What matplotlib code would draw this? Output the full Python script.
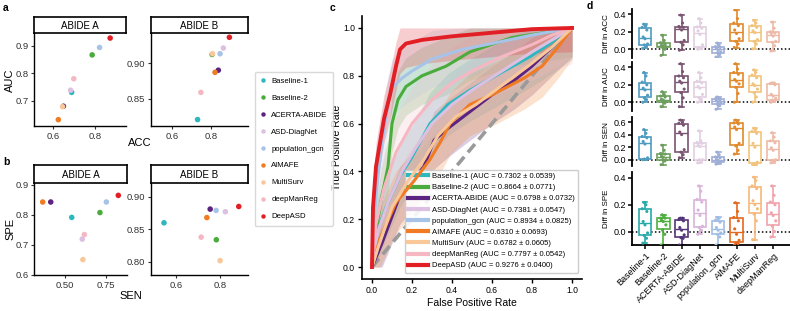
import matplotlib.pyplot as plt
import numpy as np

plt.rcParams['font.family'] = ['Liberation Sans', 'DejaVu Sans']

W, H = 790, 311


def px_box(l, t, r, b):
    # pixel box -> figure fraction
    return [l / W, 1 - b / H, (r - l) / W, (b - t) / H]


methods = ['Baseline-1', 'Baseline-2', 'ACERTA-ABIDE', 'ASD-DiagNet', 'population_gcn',
           'AIMAFE', 'MultiSurv', 'deepManReg', 'DeepASD']
colors = ['#2cb8bd', '#4aac3c', '#5c2380', '#dcc0e2', '#a7c4e8',
          '#f07b22', '#f8c89a', '#f5b8c2', '#e31f26']

# panel a / b : metrics per cohort
acc_a = [0.688, 0.785, 0.649, 0.683, 0.820, 0.625, 0.645, 0.698, 0.870]
auc_a = [0.7302, 0.8664, 0.6798, 0.7381, 0.8934, 0.6310, 0.6782, 0.7797, 0.9276]
acc_b = [0.730, 0.805, 0.837, 0.863, 0.846, 0.820, 0.807, 0.747, 0.894]
auc_b = [0.821, 0.912, 0.890, 0.921, 0.913, 0.887, 0.913, 0.859, 0.936]
sen_a = [0.543, 0.715, 0.415, 0.607, 0.754, 0.366, 0.611, 0.620, 0.827]
spe_a = [0.791, 0.807, 0.842, 0.719, 0.842, 0.842, 0.651, 0.734, 0.864]
sen_b = [0.545, 0.783, 0.755, 0.824, 0.782, 0.740, 0.800, 0.714, 0.885]
spe_b = [0.860, 0.834, 0.881, 0.877, 0.879, 0.868, 0.802, 0.838, 0.885]

# panel c : mean ROC curves
b1_fpr = [0, 0.03, 0.07, 0.14, 0.2, 0.29, 0.38, 0.49, 0.66, 0.79, 0.9, 1]
b1_tpr = [0, 0.16, 0.25, 0.38, 0.46, 0.6, 0.68, 0.74, 0.82, 0.88, 0.94, 1]
b2_fpr = [0, 0.02, 0.05, 0.08, 0.1, 0.13, 0.17, 0.25, 0.37, 0.49, 0.7, 0.9, 1]
b2_tpr = [0, 0.15, 0.3, 0.42, 0.6, 0.7, 0.755, 0.8, 0.84, 0.9, 0.96, 0.985, 1]
acerta_fpr = [0, 0.05, 0.14, 0.2, 0.26, 0.31, 0.38, 0.49, 0.6, 0.71, 0.8, 0.9, 1]
acerta_tpr = [0, 0.1, 0.3, 0.36, 0.42, 0.53, 0.58, 0.65, 0.72, 0.78, 0.84, 0.92, 1]
asd_fpr = [0, 0.03, 0.08, 0.15, 0.22, 0.3, 0.4, 0.5, 0.65, 0.8, 0.9, 1]
asd_tpr = [0, 0.15, 0.27, 0.4, 0.5, 0.6, 0.68, 0.74, 0.82, 0.9, 0.95, 1]
gcn_fpr = [0, 0.01, 0.03, 0.05, 0.08, 0.1, 0.15, 0.2, 0.3, 0.45, 0.6, 0.8, 1]
gcn_tpr = [0, 0.2, 0.38, 0.52, 0.68, 0.75, 0.79, 0.82, 0.87, 0.91, 0.935, 0.97, 1]
aimafe_fpr = [0, 0.04, 0.12, 0.21, 0.29, 0.34, 0.39, 0.49, 0.6, 0.68, 0.76, 0.85, 0.93, 1]
aimafe_tpr = [0, 0.12, 0.27, 0.36, 0.45, 0.52, 0.6, 0.68, 0.72, 0.755, 0.79, 0.84, 0.92, 1]
multi_fpr = [0, 0.03, 0.1, 0.18, 0.26, 0.33, 0.42, 0.52, 0.65, 0.78, 0.9, 1]
multi_tpr = [0, 0.08, 0.25, 0.36, 0.45, 0.55, 0.63, 0.68, 0.76, 0.84, 0.92, 1]
dmr_fpr = [0, 0.02, 0.06, 0.12, 0.2, 0.3, 0.4, 0.5, 0.65, 0.8, 0.9, 1]
dmr_tpr = [0, 0.18, 0.33, 0.48, 0.6, 0.7, 0.77, 0.82, 0.88, 0.93, 0.97, 1]
deepasd_fpr = [0, 0.005, 0.02, 0.04, 0.06, 0.09, 0.12, 0.14, 0.17, 0.25, 0.4, 0.6, 0.8, 1]
deepasd_tpr = [0, 0.25, 0.42, 0.52, 0.62, 0.72, 0.84, 0.91, 0.935, 0.95, 0.965, 0.98, 0.995, 1]
roc_sd = [0.13, 0.12, 0.12, 0.12, 0.12, 0.13, 0.12, 0.15, 0.10]
auc_mean = [0.7302, 0.8664, 0.6798, 0.7381, 0.8934, 0.6310, 0.6782, 0.7797, 0.9276]
auc_std = [0.0539, 0.0771, 0.0732, 0.0547, 0.0825, 0.0693, 0.0605, 0.0542, 0.0400]

# panel d : DeepASD minus each method, per fold
diff_acc = [
    [0.01, 0.03, 0.05, 0.06, 0.12, 0.14, 0.22, 0.25, 0.27, 0.285],
    [-0.07, 0.0, 0.02, 0.03, 0.04, 0.045, 0.06, 0.075, 0.1, 0.16],
    [-0.01, 0.05, 0.08, 0.1, 0.22, 0.25, 0.25, 0.26, 0.3, 0.39],
    [0.0, 0.01, 0.02, 0.05, 0.17, 0.21, 0.24, 0.255, 0.3, 0.35],
    [-0.09, -0.06, -0.04, -0.03, -0.01, 0.01, 0.02, 0.03, 0.05, 0.07],
    [0.02, 0.06, 0.09, 0.12, 0.18, 0.22, 0.27, 0.3, 0.35, 0.45],
    [0.005, 0.06, 0.09, 0.11, 0.19, 0.21, 0.25, 0.27, 0.3, 0.33],
    [-0.02, 0.04, 0.08, 0.09, 0.15, 0.18, 0.185, 0.2, 0.24, 0.31],
]
diff_auc = [
    [0.0, 0.03, 0.05, 0.08, 0.14, 0.16, 0.2, 0.23, 0.3, 0.34],
    [-0.05, -0.01, 0.005, 0.01, 0.025, 0.035, 0.06, 0.07, 0.09, 0.12],
    [-0.05, 0.05, 0.11, 0.15, 0.22, 0.24, 0.28, 0.3, 0.35, 0.44],
    [0.0, 0.03, 0.05, 0.09, 0.16, 0.18, 0.22, 0.24, 0.28, 0.34],
    [-0.08, -0.04, -0.025, -0.005, 0.005, 0.015, 0.03, 0.04, 0.05, 0.06],
    [0.0, 0.1, 0.17, 0.21, 0.24, 0.26, 0.32, 0.34, 0.38, 0.44],
    [0.0, 0.06, 0.11, 0.15, 0.19, 0.21, 0.28, 0.31, 0.34, 0.37],
    [0.0, 0.01, 0.025, 0.045, 0.07, 0.09, 0.2, 0.215, 0.22, 0.22],
]
diff_sen = [
    [0.0, 0.005, 0.01, 0.03, 0.25, 0.29, 0.35, 0.37, 0.42, 0.48],
    [-0.08, -0.02, 0.0, 0.0, 0.04, 0.06, 0.09, 0.1, 0.15, 0.23],
    [0.03, 0.08, 0.12, 0.16, 0.4, 0.44, 0.55, 0.58, 0.6, 0.63],
    [-0.05, -0.02, 0.0, 0.0, 0.21, 0.23, 0.26, 0.275, 0.3, 0.46],
    [-0.07, -0.05, -0.03, -0.03, -0.01, 0.01, 0.03, 0.045, 0.08, 0.12],
    [0.09, 0.15, 0.22, 0.26, 0.48, 0.52, 0.57, 0.585, 0.61, 0.63],
    [-0.08, -0.07, -0.065, -0.04, 0.2, 0.26, 0.42, 0.45, 0.48, 0.5],
    [-0.05, -0.03, -0.01, 0.0, 0.15, 0.19, 0.27, 0.3, 0.36, 0.43],
]
diff_spe = [
    [-0.086, -0.05, -0.03, -0.01, 0.05, 0.075, 0.15, 0.17, 0.2, 0.217],
    [-0.1, -0.02, 0.01, 0.05, 0.075, 0.085, 0.1, 0.1, 0.12, 0.125],
    [-0.1, -0.05, -0.045, -0.025, 0.01, 0.03, 0.08, 0.09, 0.1, 0.1],
    [-0.02, 0.01, 0.03, 0.04, 0.12, 0.16, 0.22, 0.24, 0.3, 0.34],
    [-0.1, -0.04, -0.02, -0.01, 0.01, 0.03, 0.07, 0.085, 0.1, 0.105],
    [-0.1, -0.09, -0.085, -0.065, -0.02, 0.02, 0.08, 0.105, 0.15, 0.215],
    [-0.06, 0.08, 0.13, 0.17, 0.2, 0.23, 0.32, 0.34, 0.38, 0.405],
    [-0.04, 0.0, 0.04, 0.08, 0.12, 0.14, 0.2, 0.22, 0.27, 0.34],
]
d_colors_top = ['#4f9cc0', '#6e9e5e', '#7a5572', '#e2cfe0', '#9eaed6', '#e2892c', '#f2c37d', '#eebaa8']
d_colors_spe = ['#2aa9a9', '#4fae3f', '#55357a', '#dab4da', '#a1bde4', '#e4691f', '#f6b97c', '#efa4ac']

fig = plt.figure(figsize=(W / 100, H / 100), dpi=100)


# ---------- panels a and b ----------
def facet(rect, strip_rect, xs, ys, title, xlim, ylim, xt, yt, xfmt, yfmt):
    ax = fig.add_axes(px_box(*rect))
    for i in range(len(methods)):
        ax.scatter(xs[i], ys[i], s=16, color=colors[i], edgecolors='none', zorder=3)
    ax.set_xlim(*xlim)
    ax.set_ylim(*ylim)
    ax.set_xticks(xt)
    ax.set_yticks(yt)
    ax.set_xticklabels([xfmt.format(v) for v in xt])
    ax.set_yticklabels([yfmt.format(v) for v in yt])
    ax.tick_params(labelsize=6.8, length=2.5, width=0.8, pad=1.5, colors='#333333')
    for s in ['top', 'right']:
        ax.spines[s].set_visible(False)
    for s in ['left', 'bottom']:
        ax.spines[s].set_linewidth(1.0)
    st = fig.add_axes(px_box(*strip_rect))
    st.set_xticks([])
    st.set_yticks([])
    for s in st.spines.values():
        s.set_linewidth(1.2)
    st.text(0.5, 0.45, title, ha='center', va='center', fontsize=7, transform=st.transAxes)
    return ax


facet((34, 33, 126, 126), (34, 17, 126, 33), acc_a, auc_a, 'ABIDE A',
      (0.51, 0.945), (0.608, 0.946), [0.6, 0.8], [0.7, 0.8, 0.9], '{:.1f}', '{:.1f}')
facet((151, 33, 248, 126), (151, 17, 248, 33), acc_b, auc_b, 'ABIDE B',
      (0.49, 0.99), (0.812, 0.942), [0.6, 0.8], [0.85, 0.90], '{:.1f}', '{:.2f}')
facet((34, 183, 127, 275), (34, 165, 127, 183), sen_a, spe_a, 'ABIDE A',
      (0.313, 0.88), (0.6, 0.905), [0.50, 0.75], [0.6, 0.7, 0.8, 0.9], '{:.2f}', '{:.1f}')
facet((151, 183, 248, 275), (151, 165, 248, 183), sen_b, spe_b, 'ABIDE B',
      (0.486, 0.927), (0.78, 0.921), [0.6, 0.8], [0.80, 0.85, 0.90], '{:.1f}', '{:.2f}')

fig.text(10 / W, 1 - 80 / H, 'AUC', rotation=90, ha='center', va='center', fontsize=8)
fig.text(140 / W, 1 - 143 / H, 'ACC', ha='center', va='center', fontsize=8)
fig.text(10 / W, 1 - 229 / H, 'SPE', rotation=90, ha='center', va='center', fontsize=8)
fig.text(131 / W, 1 - 296 / H, 'SEN', ha='center', va='center', fontsize=8)

handles = [plt.Line2D([], [], ls='none', marker='o', ms=3.2, color=c, mec='none') for c in colors]
fig.legend(handles, methods, loc='upper left', bbox_to_anchor=(251 / W, 1 - 68 / H),
           fontsize=5.6, labelspacing=1.22, handlelength=0.8, handletextpad=0.6,
           borderpad=0.7, frameon=True, fancybox=True, edgecolor='#d0d0d0')

# ---------- panel c ----------
axc = fig.add_axes(px_box(362, 16, 582, 279))
roc = [(b1_fpr, b1_tpr), (b2_fpr, b2_tpr), (acerta_fpr, acerta_tpr), (asd_fpr, asd_tpr),
       (gcn_fpr, gcn_tpr), (aimafe_fpr, aimafe_tpr), (multi_fpr, multi_tpr),
       (dmr_fpr, dmr_tpr), (deepasd_fpr, deepasd_tpr)]
for i, (f, t) in enumerate(roc):
    t = np.array(t)
    axc.fill_between(f, np.clip(t - roc_sd[i], 0, 1), np.clip(t + roc_sd[i], 0, 1),
                     color=colors[i], alpha=0.22, lw=0)
axc.plot([0, 1], [0, 1], ls=(0, (3, 1.6)), color='#9a9a9a', lw=2.6, zorder=2)
for i, (f, t) in enumerate(roc):
    lw = 2.8 if methods[i] == 'DeepASD' else 2.2
    axc.plot(f, t, color=colors[i], lw=lw, zorder=3 + i,
             label=f'{methods[i]} (AUC = {auc_mean[i]:.4f} ± {auc_std[i]:.4f})')
axc.set_xlim(-0.05, 1.05)
axc.set_ylim(-0.05, 1.05)
axc.set_xticks(np.arange(0, 1.01, 0.2))
axc.set_yticks(np.arange(0, 1.01, 0.2))
axc.tick_params(labelsize=6.2, length=3, width=1.0, pad=2)
for s in ['top', 'right']:
    axc.spines[s].set_visible(False)
for s in ['left', 'bottom']:
    axc.spines[s].set_linewidth(1.2)
axc.set_xlabel('False Positive Rate', fontsize=7.5, labelpad=2)
axc.set_ylabel('True Positive Rate', fontsize=7.5, labelpad=1)
leg = axc.legend(loc='lower right', bbox_to_anchor=(1.0, 0.01), fontsize=5.5,
                 handlelength=2.6, labelspacing=0.5, handletextpad=0.6, borderpad=0.4,
                 frameon=True, fancybox=True, edgecolor='#c8c8c8', framealpha=0.9)
for ln in leg.get_lines():
    ln.set_linewidth(3)

# ---------- panel d ----------
rows = [('Diff in ACC', diff_acc, (9, 58), (-0.1, 0.46), [0.0, 0.2, 0.4], d_colors_top),
        ('Diff in AUC', diff_auc, (62, 111), (-0.1, 0.46), [0.0, 0.2, 0.4], d_colors_top),
        ('Diff in SEN', diff_sen, (117, 166), (-0.1, 0.68), [0.0, 0.2, 0.4, 0.6], d_colors_top),
        ('Diff in SPE', diff_spe, (172, 245), (-0.1, 0.444), [0.0, 0.2, 0.4], d_colors_spe)]
jit = np.array([-0.12, 0.08, -0.04, 0.14, 0.0, -0.1, 0.1, -0.15, 0.05, -0.06])
for r, (lab, data, (top, bot), ylim, yt, cols) in enumerate(rows):
    ax = fig.add_axes(px_box(632, top, 790, bot))
    pos = np.arange(len(data))
    for k in range(len(data)):
        c = cols[k]
        ax.boxplot([data[k]], positions=[k], widths=0.68, whis=(0, 100), showfliers=False,
                   patch_artist=True,
                   boxprops=dict(facecolor='white', edgecolor=c, lw=1.2),
                   whiskerprops=dict(color=c, lw=1.2),
                   capprops=dict(color=c, lw=1.2),
                   medianprops=dict(color=c, lw=1.0), capwidths=0.25)
        ax.scatter(k + jit[:len(data[k])], data[k], s=5, color=c, edgecolors='none', zorder=4)
    ax.axhline(0, color='black', ls=(0, (1, 1.5)), lw=1.1, zorder=1)
    ax.set_xlim(-0.71, 7.92)
    ax.set_ylim(*ylim)
    ax.set_yticks(yt)
    ax.set_yticklabels([f'{v:.1f}' for v in yt])
    ax.tick_params(axis='y', labelsize=6.5, length=3, width=1.1, pad=1.5)
    ax.set_ylabel(lab, fontsize=5.8, labelpad=2)
    for s in ['top', 'right']:
        ax.spines[s].set_visible(False)
    ax.spines['left'].set_linewidth(1.3)
    if r < 3:
        ax.spines['bottom'].set_visible(False)
        ax.set_xticks([])
    else:
        ax.spines['bottom'].set_linewidth(1.3)
        ax.set_xticks(pos)
        ax.set_xticklabels(methods[:8], rotation=45, ha='right', rotation_mode='anchor', fontsize=6.5)
        ax.tick_params(axis='x', length=3, width=1.1, pad=1.5)

# panel letters
for letter, x, y in [('a', 3, 8), ('b', 3, 162), ('c', 330, 8), ('d', 587, 6)]:
    fig.text(x / W, 1 - y / H, letter, fontsize=7.5, fontweight='bold', ha='left', va='center')

fig.savefig('out.png', dpi=100)
